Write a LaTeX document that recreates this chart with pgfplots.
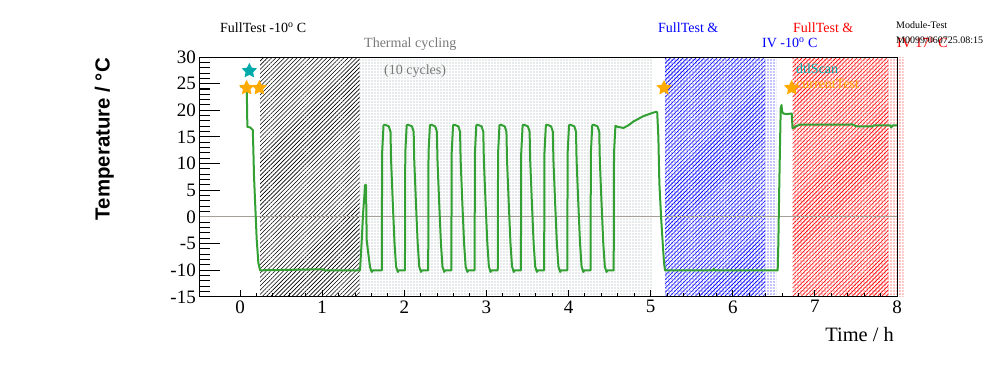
\documentclass[border=0pt]{standalone}
\usepackage{pgfplots}
\pgfplotsset{compat=1.18}
\usepackage{fontspec}
\setmainfont{Liberation Serif}
\newfontfamily\arialfont{Liberation Sans}
\usetikzlibrary{patterns,patterns.meta}
\newcommand\fs[1]{\fontsize{#1}{#1}\selectfont}
\definecolor{lgreen}{RGB}{51,160,51}
\definecolor{starorange}{RGB}{255,170,0}
\definecolor{starcyan}{RGB}{0,170,170}
\definecolor{dotgray}{RGB}{150,165,165}
\definecolor{zerogray}{RGB}{165,160,150}
\definecolor{txtgray}{RGB}{120,120,120}
\pgfdeclareplotmark{fstar}{%
  \pgfpathmoveto{\pgfpointpolar{90}{\pgfplotmarksize}}%
  \pgfpathlineto{\pgfpointpolar{126}{0.5\pgfplotmarksize}}%
  \pgfpathlineto{\pgfpointpolar{162}{\pgfplotmarksize}}%
  \pgfpathlineto{\pgfpointpolar{198}{0.5\pgfplotmarksize}}%
  \pgfpathlineto{\pgfpointpolar{234}{\pgfplotmarksize}}%
  \pgfpathlineto{\pgfpointpolar{270}{0.5\pgfplotmarksize}}%
  \pgfpathlineto{\pgfpointpolar{306}{\pgfplotmarksize}}%
  \pgfpathlineto{\pgfpointpolar{342}{0.5\pgfplotmarksize}}%
  \pgfpathlineto{\pgfpointpolar{18}{\pgfplotmarksize}}%
  \pgfpathlineto{\pgfpointpolar{54}{0.5\pgfplotmarksize}}%
  \pgfpathclose
  \pgfusepathqfill
}
\pgfplotstableread{
x y
0.000 24.5
0.061 24.5
0.082 23.8
0.089 16.9
0.122 16.8
0.155 16.3
0.162 12.6
0.170 7.6
0.191 0
0.203 -4.3
0.223 -8.6
0.244 -10
1.010 -9.8
1.030 -10
1.461 -10
1.482 -4.3
1.498 0.7
1.514 4.0
1.522 6.0
1.534 6.0
1.542 -4.3
1.563 -7.0
1.583 -9.4
1.603 -10.3
1.620 -10
1.726 -10
1.730 12
1.747 17.2
1.763 17.3
1.811 17.0
1.832 16.0
1.839 10.7
1.860 2.6
1.881 -4.9
1.900 -9.3
1.921 -10.3
1.933 -10
2.008 -10
2.012 12
2.029 17.2
2.045 17.3
2.093 17.0
2.114 16.0
2.121 10.7
2.142 2.6
2.163 -4.9
2.182 -9.3
2.203 -10.3
2.215 -10
2.291 -10
2.295 12
2.312 17.2
2.328 17.3
2.376 17.0
2.397 16.0
2.404 10.7
2.425 2.6
2.446 -4.9
2.465 -9.3
2.486 -10.3
2.498 -10
2.573 -10
2.577 12
2.594 17.2
2.610 17.3
2.658 17.0
2.679 16.0
2.686 10.7
2.707 2.6
2.728 -4.9
2.747 -9.3
2.768 -10.3
2.780 -10
2.856 -10
2.860 12
2.877 17.2
2.893 17.3
2.941 17.0
2.962 16.0
2.969 10.7
2.990 2.6
3.011 -4.9
3.030 -9.3
3.051 -10.3
3.063 -10
3.138 -10
3.142 12
3.159 17.2
3.175 17.3
3.223 17.0
3.244 16.0
3.251 10.7
3.272 2.6
3.293 -4.9
3.312 -9.3
3.333 -10.3
3.345 -10
3.420 -10
3.424 12
3.441 17.2
3.457 17.3
3.505 17.0
3.526 16.0
3.533 10.7
3.554 2.6
3.575 -4.9
3.594 -9.3
3.615 -10.3
3.627 -10
3.703 -10
3.707 12
3.724 17.2
3.740 17.3
3.788 17.0
3.809 16.0
3.816 10.7
3.837 2.6
3.858 -4.9
3.877 -9.3
3.898 -10.3
3.910 -10
3.985 -10
3.989 12
4.006 17.2
4.022 17.3
4.070 17.0
4.091 16.0
4.098 10.7
4.119 2.6
4.140 -4.9
4.159 -9.3
4.180 -10.3
4.192 -10
4.268 -10
4.272 12
4.289 17.2
4.305 17.3
4.353 17.0
4.374 16.0
4.381 10.7
4.402 2.6
4.423 -4.9
4.442 -9.3
4.463 -10.3
4.475 -10
4.550 -10
4.554 12
4.571 17.1
4.600 16.9
4.670 16.7
4.730 17.2
4.790 17.9
4.910 18.9
5.000 19.4
5.070 19.75
5.080 19.6
5.094 15
5.106 6.4
5.127 0
5.147 -4.9
5.163 -8.6
5.175 -10
5.760 -10
5.770 -9.7
5.780 -10
6.547 -10
6.555 -4.9
6.567 6.4
6.575 13.2
6.584 20.4
6.594 21
6.600 19.8
6.616 19.4
6.657 19.3
6.718 19.4
6.728 16.6
6.779 17.1
6.819 17.3
7.428 17.3
7.450 17.4
7.509 17.0
7.707 17.0
7.720 17.2
7.915 17.2
7.930 16.8
7.950 17.2
8.000 17.2
}\tempdata
\begin{document}
\begin{tikzpicture}
\useasboundingbox (0,0) rectangle (996pt,372pt);
\pgfplotsset{
  base/.style={
    at={(199pt,75pt)}, anchor=south west,
    scale only axis, width=698pt, height=240pt,
    xmin=-0.5, xmax=8, ymin=-15, ymax=30,
    tick pos=left, tick align=inside,
    axis line style={line width=1pt},
    every tick/.style={black, line width=1pt},
    tick label style={font=\fs{19}},
    /pgf/number format/assume math mode=true,
    clip=false,
  }
}
\begin{axis}[base,
  xtick=\empty,
  ytick={-15,-10,...,30},
  minor y tick num=4,
  major tick length=21pt, minor tick length=10.5pt,
  yticklabel style={inner sep=3pt},
]
% regions
\addplot[draw=none, pattern={Lines[angle=45,distance=3pt,line width=0.6pt]}, pattern color=black]
  coordinates {(0.244,-15) (1.455,-15) (1.455,30) (0.244,30) (0.244,-15)};
\addplot[draw=none, pattern={Dots[distance=3pt,radius=0.6pt]}, pattern color=dotgray]
  coordinates {(1.455,-15) (5.025,-15) (5.025,30) (1.455,30) (1.455,-15)};
\addplot[draw=none, pattern={Dots[distance=3pt,radius=0.6pt]}, pattern color=blue]
  coordinates {(5.175,-15) (6.535,-15) (6.535,30) (5.175,30) (5.175,-15)};
\addplot[draw=none, pattern={Lines[angle=45,distance=3pt,line width=0.6pt]}, pattern color=blue]
  coordinates {(5.175,-15) (6.393,-15) (6.393,30) (5.175,30) (5.175,-15)};
\addplot[draw=none, pattern={Dots[distance=3pt,radius=0.6pt]}, pattern color=red]
  coordinates {(6.728,-15) (8.077,-15) (8.077,30) (6.728,30) (6.728,-15)};
\addplot[draw=none, pattern={Lines[angle=45,distance=3pt,line width=0.6pt]}, pattern color=red]
  coordinates {(6.728,-15) (7.894,-15) (7.894,30) (6.728,30) (6.728,-15)};
% zero line
\addplot[zerogray, line width=1pt] coordinates {(-0.5,0) (8,0)};
% temperature
\addplot[lgreen, line width=2pt, line join=round] table[x=x,y=y] {\tempdata};
% stars
\addplot[only marks, mark=fstar, mark size=8pt, color=starorange, mark options={fill=starorange}]
  coordinates {(0.08,24.2) (0.235,24.2) (5.163,24.2) (6.718,24.2)};
\addplot[only marks, mark=fstar, mark size=8pt, color=starcyan, mark options={fill=starcyan}]
  coordinates {(0.113,27.4)};
\end{axis}
\begin{axis}[base,
  ytick=\empty,
  xtick={0,...,8},
  minor x tick num=4,
  major tick length=7.2pt, minor tick length=3.6pt,
]
\end{axis}
% texts
\node[anchor=base west, font=\fs{14}, inner sep=0] at (220pt,339.3pt) {FullTest -10\textsuperscript{o} C};
\node[anchor=base west, font=\fs{14}, text=txtgray, inner sep=0] at (364pt,324.7pt) {Thermal cycling};
\node[anchor=base west, font=\fs{14}, text=txtgray, inner sep=0] at (384pt,297pt) {(10 cycles)};
\node[anchor=base west, font=\fs{14}, text=blue, inner sep=0] at (658pt,339.3pt) {FullTest \&};
\node[anchor=base west, font=\fs{14}, text=blue, inner sep=0] at (762pt,324.7pt) {IV -10\textsuperscript{o} C};
\node[anchor=base west, font=\fs{14}, text=red, inner sep=0] at (793pt,339.3pt) {FullTest \&};
\node[anchor=base west, font=\fs{14}, text=red, inner sep=0] at (897pt,324.7pt) {IV 17\textsuperscript{o} C};
\node[anchor=base west, font=\fs{10}, inner sep=0] at (896pt,343.7pt) {Module-Test};
\node[anchor=base west, font=\fs{10}, inner sep=0] at (896pt,328.7pt) {M0099/060725.08:15};
\node[anchor=base west, font=\fs{14}, text=starcyan, inner sep=0] at (796pt,298.7pt) {dtlScan};
\node[anchor=base west, font=\fs{14}, text=starorange, inner sep=0] at (796pt,283.7pt) {currentTest};
\node[anchor=base east, font=\fs{20.4}, inner sep=0] at (894pt,30pt) {Time / h};
\node[anchor=base east, rotate=90, font=\arialfont\bfseries\fs{20.4}, inner sep=0] at (109.6pt,314pt) {Temperature / °C};
\end{tikzpicture}
\end{document}
